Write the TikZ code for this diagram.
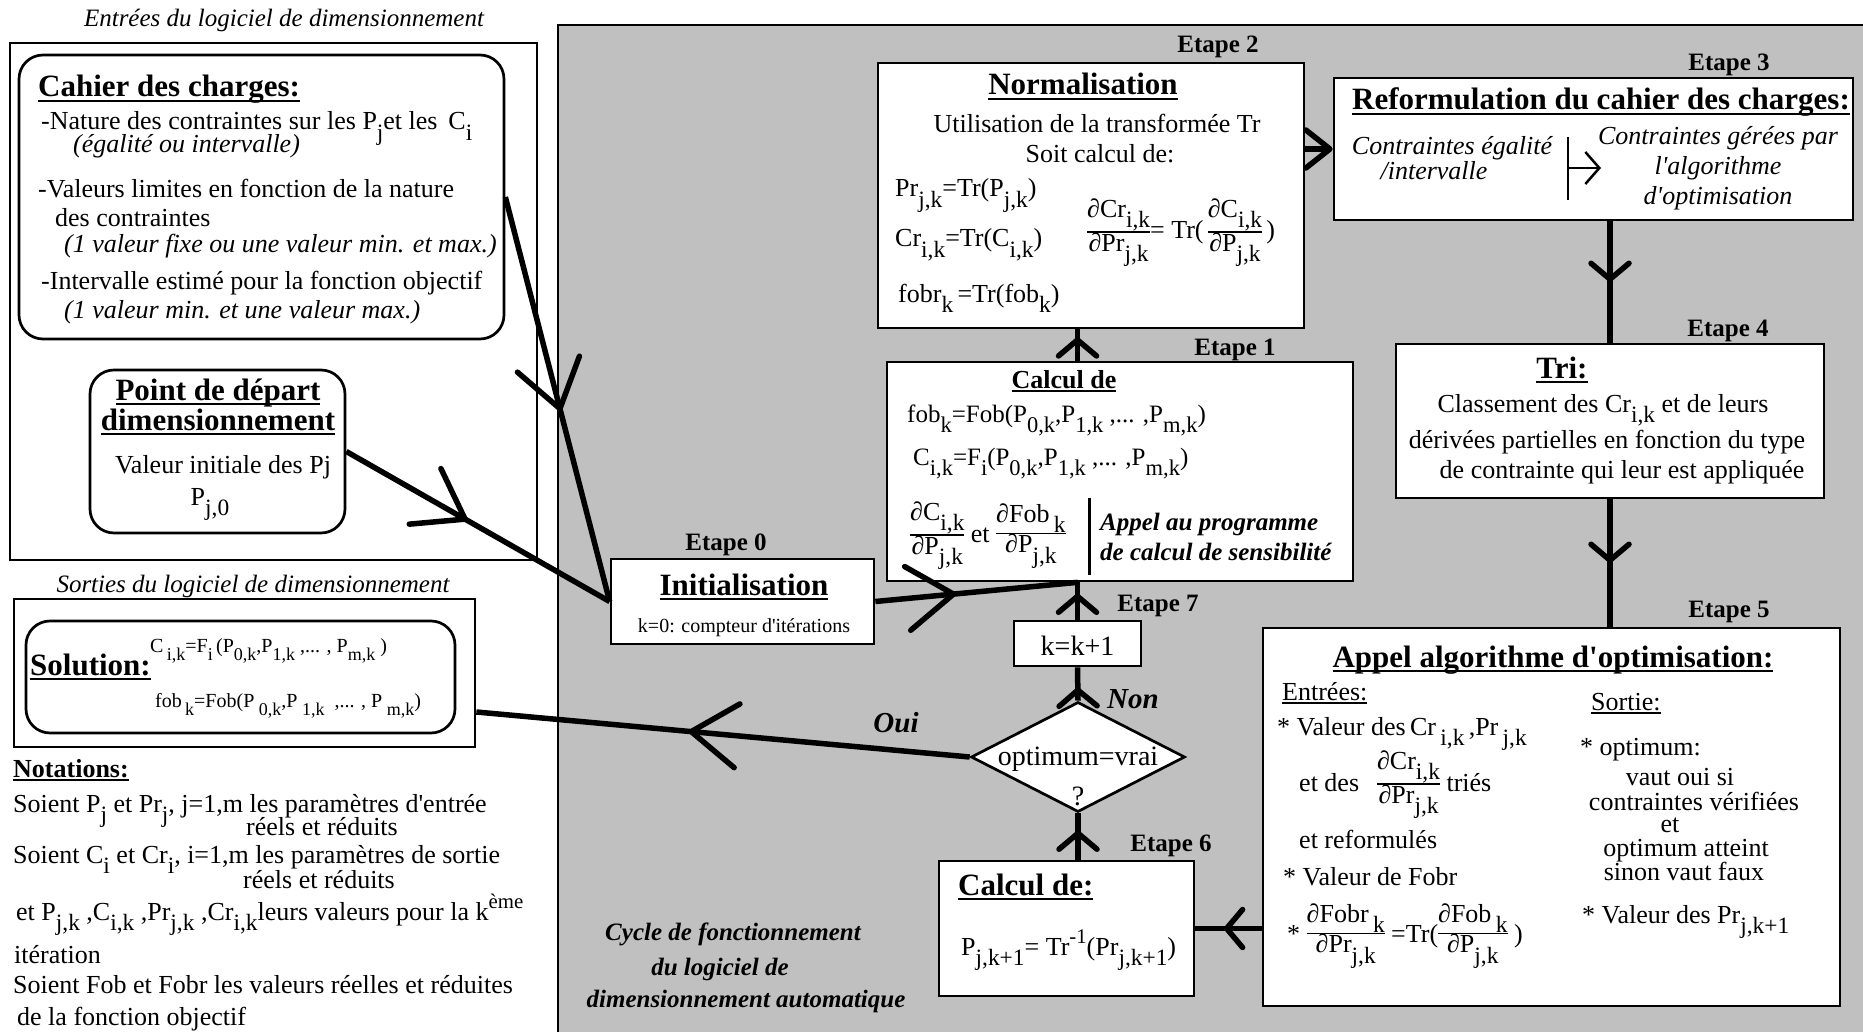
\documentclass[tikz,border=0pt]{standalone}
\usepackage{amsmath}
\usepackage{graphicx}
\usepackage{fontspec}
\setmainfont{Liberation Serif}
\usetikzlibrary{shapes.geometric,arrows.meta,decorations.markings,fit}
\definecolor{cyclegray}{RGB}{192,192,192}
\newcommand{\sz}[1]{\fontsize{#1}{#1}\selectfont}
\newcommand{\dn}[1]{\raisebox{-0.4em}{\scalebox{0.9}{#1}}}
\newcommand{\up}[1]{\raisebox{0.45em}{\scalebox{0.8}{#1}}}
\newcommand{\ul}[1]{\setbox0=\hbox{#1}\rlap{\rule[-0.17em]{\wd0}{0.085em}}\box0}
\newcommand{\frc}[2]{\begin{tabular}[c]{@{}c@{}}#1\\\hline #2\end{tabular}}
\newcommand{\ap}{\textquotesingle}
\setlength{\arrayrulewidth}{1.5pt}
\begin{document}
\begin{tikzpicture}[x=1pt,y=-1pt,
    every node/.style={inner sep=0pt},
    frame/.style={draw,line width=2.7pt},
    rbox/.style={draw,line width=2.7pt,rounded corners=24pt,fill=white},
    wbox/.style={draw,line width=2.7pt,fill=white},
    etape/.style={font=\sz{25}\bfseries,anchor=base},
    ttl/.style={font=\sz{31}\bfseries},
    txt/.style={font=\sz{26}},
    itx/.style={font=\sz{26}\itshape},
    bix/.style={font=\sz{25}\bfseries\itshape},
    flow/.style={line width=5.5pt},
    bigarrow/.style={flow,postaction={decorate},decoration={markings,mark=at position #1 with {\arrow{Straight Barb[length=46pt,width=64pt,round]}}}},
    smallarrow/.style={flow,postaction={decorate},decoration={markings,mark=at position #1 with {\arrow{Straight Barb[length=16pt,width=38pt,round]}}}}]
  \useasboundingbox (0,0) rectangle (1863,1032);
  \node[fit={(558,25) (1880,1050)},fill=cyclegray,draw,line width=2.7pt] (cycle) {};

  \node[font=\sz{25}\itshape,anchor=base] (entreesT) at (284,27) {Entrées du logiciel de dimensionnement};
  \node[frame,fit={(10,43) (537,560)}] (entrees) {};
  \node[rbox,fit={(19,55) (504,339)}] (cahier) {};
  \node[ttl,anchor=base west] (cahierT) at (38,97) {\ul{Cahier des charges:}};
  \node[txt,anchor=base west] (cahierA) at (41,130) {-Nature des contraintes sur les P\dn{j}et les \,C\dn{i}};
  \node[itx,anchor=base west] (cahierB) at (73,153) {(égalité ou intervalle)};
  \node[txt,anchor=base west] (cahierC) at (38,198) {-Valeurs limites en fonction de la nature};
  \node[txt,anchor=base west] (cahierD) at (55,227) {des contraintes};
  \node[itx,anchor=base west] (cahierE) at (64,253) {(1 valeur fixe ou une valeur min. et max.)};
  \node[txt,anchor=base west] (cahierF) at (41,290) {-Intervalle estimé pour la fonction objectif};
  \node[itx,anchor=base west] (cahierG) at (64,318) {(1 valeur min. et une valeur max.)};

  \node[rbox,fit={(90,370) (345,533)}] (depart) {};
  \node[ttl,anchor=base] (departT1) at (218,400) {\ul{Point de départ}};
  \node[ttl,anchor=base] (departT2) at (218,430) {\ul{dimensionnement}};
  \node[txt,anchor=base] (departV) at (223,473) {Valeur initiale des Pj};
  \node[txt,anchor=base] (departP) at (210,505) {P\dn{j,0}};

  \node[font=\sz{25}\itshape,anchor=base] (sortiesT) at (253,592) {Sorties du logiciel de dimensionnement};
  \node[frame,fit={(14,599) (475,747)}] (sorties) {};
  \node[rbox,fit={(26,621) (455,733)}] (solution) {};
  \node[ttl,anchor=base west] (solutionT) at (30,675) {\ul{Solution:}};
  \node[font=\sz{20},anchor=base west] (solF1) at (150,652) {C\,\dn{i,k}=F\dn{i}\,(P\dn{0,k},P\dn{1,k}\ ,... ,\ P\dn{m,k}\ )};
  \node[font=\sz{20},anchor=base west] (solF2) at (155,707) {fob\,\dn{k}=Fob(P\dn{\ 0,k},P\dn{\ 1,k}\ \ ,... ,\ P\dn{\ m,k})};

  \node[font=\sz{26}\bfseries,anchor=base west] (notT) at (13,777) {\ul{Notations:}};
  \node[txt,anchor=base west] (not1) at (13,812) {Soient P\dn{j} et Pr\dn{j}, j=1,m les paramètres d\ap entrée};
  \node[txt,anchor=base west] (not2) at (246,835) {réels et réduits};
  \node[txt,anchor=base west] (not3) at (13,863) {Soient C\dn{i} et Cr\dn{i}, i=1,m les paramètres de sortie};
  \node[txt,anchor=base west] (not4) at (243,888) {réels et réduits};
  \node[txt,anchor=base west] (not5) at (16,920) {et P\dn{j,k} ,C\dn{i,k} ,Pr\dn{j,k} ,Cr\dn{i,k}leurs valeurs pour la k\up{ème}};
  \node[txt,anchor=base west] (not6) at (14,963) {itération};
  \node[txt,anchor=base west] (not7) at (13,993) {Soient Fob et Fobr les valeurs réelles et réduites};
  \node[txt,anchor=base west] (not8) at (17,1025) {de la fonction objectif};

  \node[etape] (initE) at (726,550) {Etape 0};
  \node[wbox,fit={(611,559) (874,644)}] (init) {};
  \node[ttl,anchor=base] (initT) at (744,595) {\ul{Initialisation}};
  \node[font=\sz{20},anchor=base] (initK) at (744,632) {k=0: compteur d\ap itérations};

  \node[etape] (calc1E) at (1235,355) {Etape 1};
  \node[wbox,fit={(887,362) (1353,581)}] (calc1) {};
  \node[font=\sz{26}\bfseries,anchor=base] (calc1T) at (1064,388) {\ul{Calcul de}};
  \node[font=\sz{25},anchor=base west] (calc1F1) at (907,422) {fob\dn{k}=Fob(P\dn{0,k},P\dn{1,k} ,... ,P\dn{m,k})};
  \node[font=\sz{25},anchor=base west] (calc1F2) at (913,465) {C\dn{i,k}=F\dn{i}(P\dn{0,k},P\dn{1,k} ,... ,P\dn{m,k})};
  \node[txt,anchor=base west] (calc1F3) at (910,542) {\frc{∂C\dn{i,k}}{∂P\dn{j,k}} et \frc{∂Fob\,\dn{k}}{∂P\dn{j,k}}};
  \node[bix,anchor=base west] (calc1A) at (1100,530) {Appel au programme};
  \node[bix,anchor=base west] (calc1B) at (1100,560) {de calcul de sensibilité};
  \draw[line width=3pt] (1089,498) -- (1089,575);

  \node[etape] (normE) at (1218,53) {Etape 2};
  \node[wbox,fit={(878,63) (1304,328)}] (norm) {};
  \node[ttl,anchor=base] (normT) at (1083,95) {\ul{Normalisation}};
  \node[txt,anchor=base] (normU) at (1097,133) {Utilisation de la transformée Tr};
  \node[txt,anchor=base] (normS) at (1100,163) {Soit calcul de:};
  \node[txt,anchor=base west] (normF1) at (895,197) {Pr\dn{j,k}=Tr(P\dn{j,k})};
  \node[txt,anchor=base west] (normF2) at (895,247) {Cr\dn{i,k}=Tr(C\dn{i,k})};
  \node[txt,anchor=base west] (normF3) at (898,302) {fobr\dn{k}\,=Tr(fob\dn{k})};
  \node[txt,anchor=base west] (normF4) at (1087,239) {\frc{∂Cr\dn{i,k}}{∂Pr\dn{j,k}}= Tr(\,\frc{∂C\dn{i,k}}{∂P\dn{j,k}}\,)};

  \node[etape] (reformE) at (1729,71) {Etape 3};
  \node[wbox,fit={(1334,78) (1853,220)}] (reform) {};
  \node[ttl,anchor=base] (reformT) at (1601,110) {\ul{Reformulation du cahier des charges:}};
  \node[itx,anchor=base] (reformL1) at (1452,155) {Contraintes égalité};
  \node[itx,anchor=base] (reformL2) at (1434,180) {/intervalle};
  \node[itx,anchor=base] (reformR1) at (1718,145) {Contraintes gérées par};
  \node[itx,anchor=base] (reformR2) at (1718,175) {l\ap algorithme};
  \node[itx,anchor=base] (reformR3) at (1718,205) {d\ap optimisation};
  \draw[line width=2.5pt] (1568,137) -- (1568,200);
  \draw[line width=2.5pt,-{Straight Barb[length=14pt,width=32pt]}] (1568,168) -- (1601,168);

  \node[etape] (triE) at (1728,336) {Etape 4};
  \node[wbox,fit={(1396,344) (1824,498)}] (tri) {};
  \node[ttl,anchor=base] (triT) at (1562,378) {\ul{Tri:}};
  \node[txt,anchor=base] (triL1) at (1603,412) {Classement des Cr\dn{i,k} et de leurs};
  \node[txt,anchor=base] (triL2) at (1607,448) {dérivées partielles en fonction du type};
  \node[txt,anchor=base] (triL3) at (1622,478) {de contrainte qui leur est appliquée};

  \node[etape] (appelE) at (1729,617) {Etape 5};
  \node[wbox,fit={(1263,628) (1840,1006)}] (appel) {};
  \node[ttl,anchor=base] (appelT) at (1553,667) {\ul{Appel algorithme d\ap optimisation:}};
  \node[txt,anchor=base west] (appelIn) at (1282,700) {\ul{Entrées:}};
  \node[txt,anchor=base west] (appelOut) at (1591,710) {\ul{Sortie:}};
  \node[txt,anchor=base west] (appelA) at (1277,735) {* Valeur des\,Cr\,\dn{i,k}\,,Pr\,\dn{j,k}};
  \node[txt,anchor=base west] (appelB) at (1299,791) {et des\hspace{18pt}\frc{∂Cr\dn{i,k}}{∂Pr\dn{j,k}} triés};
  \node[txt,anchor=base west] (appelC) at (1299,848) {et reformulés};
  \node[txt,anchor=base west] (appelD) at (1283,885) {* Valeur de Fobr};
  \node[txt,anchor=base west] (appelE2) at (1287,942) {*\ \frc{∂Fobr\,\dn{k}}{∂Pr\dn{j,k}} =Tr(\frc{∂Fob\,\dn{k}}{∂P\dn{j,k}}\ )};
  \node[txt,anchor=base west] (appelS1) at (1580,755) {* optimum:};
  \node[txt,anchor=base] (appelS2) at (1680,785) {vaut oui si};
  \node[txt,anchor=base] (appelS3) at (1694,810) {contraintes vérifiées};
  \node[txt,anchor=base] (appelS4) at (1670,832) {et};
  \node[txt,anchor=base] (appelS5) at (1686,856) {optimum atteint};
  \node[txt,anchor=base] (appelS6) at (1684,880) {sinon vaut faux};
  \node[txt,anchor=base west] (appelS7) at (1582,923) {* Valeur des Pr\dn{j,k+1}};

  \node[etape] (calc6E) at (1171,851) {Etape 6};
  \node[wbox,fit={(939,861) (1194,996)}] (calc6) {};
  \node[ttl,anchor=base west] (calc6T) at (958,895) {\ul{Calcul de:}};
  \node[txt,anchor=base west] (calc6F) at (961,955) {P\dn{j,k+1}= Tr\up{-1}(Pr\dn{j,k+1})};

  \node[draw,diamond,line width=2.7pt,fill=white,minimum width=214pt,minimum height=110pt] (dia) at (1078,757) {};
  \node[font=\sz{28},anchor=base] (diaT) at (1078,765) {optimum=vrai};
  \node[font=\sz{28},anchor=base] (diaQ) at (1078,805) {?};

  \node[etape] (kkE) at (1158,611) {Etape 7};
  \node[wbox,fit={(1014,621) (1141,666)}] (kk) {};
  \node[font=\sz{28},anchor=base] (kkT) at (1077.5,655) {k=k+1};
  \node[font=\sz{29}\bfseries\itshape,anchor=base west] (non) at (1107,708) {Non};
  \node[font=\sz{29}\bfseries\itshape,anchor=base] (oui) at (896,732) {Oui};

  \node[bix,anchor=base] (cycleT1) at (733,940) {Cycle de fonctionnement};
  \node[bix,anchor=base] (cycleT2) at (720,975) {du logiciel de};
  \node[bix,anchor=base] (cycleT3) at (746,1007) {dimensionnement automatique};

  \coordinate (c1in) at (kk.north |- calc1.south);
  \coordinate (solin) at ([yshift=-39pt]sorties.east);
  \draw[bigarrow=0.53] (cahier.east) -- (init.west);
  \draw[bigarrow=0.46] (depart.east) -- (init.west);
  \draw[bigarrow=0.4] (init.east) -- (c1in);
  \draw[smallarrow=0.7] (kk.north) -- (c1in);
  \draw[smallarrow=0.75] (calc1.north -| kk.north) -- (norm.south -| kk.north);
  \draw[flow,-{Straight Barb[length=24pt,width=38pt,round]}] (norm.east |- reform.west) -- (reform.west);
  \draw[smallarrow=0.5] (reform.south -| tri.north) -- (tri.north);
  \draw[smallarrow=0.5] (tri.south) -- (appel.north -| tri.south);
  \draw[smallarrow=0.57] (appel.west |- calc6.east) -- (calc6.east);
  \draw[smallarrow=0.63] (calc6.north -| dia.south) -- (dia.south);
  \draw[smallarrow=0.4] (dia.north) -- (kk.south);
  \draw[bigarrow=0.57] (dia.west) -- (solin);
\end{tikzpicture}
\end{document}
